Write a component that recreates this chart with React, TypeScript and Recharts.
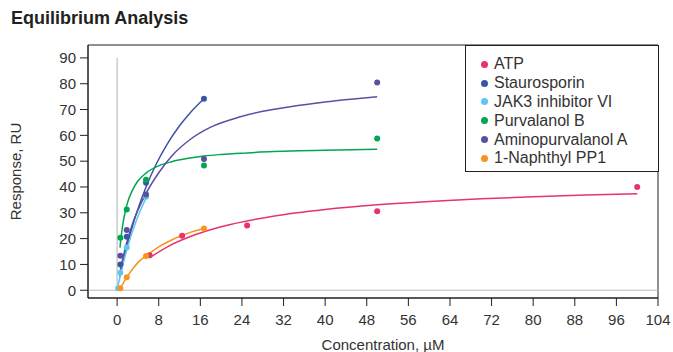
import {
  ComposedChart,
  Line,
  Scatter,
  XAxis,
  YAxis,
  ReferenceLine,
  ReferenceArea,
} from 'recharts';

// measured points (x in µM, y in RU)
const atpPoints = [
  { x: 6.25, y: 13.6 },
  { x: 12.5, y: 21.1 },
  { x: 25, y: 25.1 },
  { x: 50, y: 30.6 },
  { x: 100, y: 40 },
];
const stauroPoints = [
  { x: 0.62, y: 10 },
  { x: 1.85, y: 20.7 },
  { x: 5.56, y: 41.6 },
  { x: 16.7, y: 74.2 },
];
const jak3Points = [
  { x: 0.2, y: 0.8 },
  { x: 0.62, y: 6.8 },
  { x: 1.85, y: 16.6 },
  { x: 5.56, y: 36.2 },
];
const purvPoints = [
  { x: 0.62, y: 20.3 },
  { x: 1.85, y: 31.3 },
  { x: 5.56, y: 42.8 },
  { x: 16.7, y: 48.3 },
  { x: 50, y: 58.8 },
];
const aminoPoints = [
  { x: 0.62, y: 13.4 },
  { x: 1.85, y: 23.3 },
  { x: 5.56, y: 37.1 },
  { x: 16.7, y: 50.8 },
  { x: 50, y: 80.5 },
];
const naphPoints = [
  { x: 0.62, y: 0.8 },
  { x: 1.85, y: 5 },
  { x: 5.56, y: 13.3 },
  { x: 16.7, y: 23.9 },
];

// fitted curves
const atpCurve = [
  { x: 6.25, y: 12.6 }, { x: 10, y: 17.2 }, { x: 15, y: 21.5 }, { x: 20, y: 24.6 },
  { x: 30, y: 28.7 }, { x: 40, y: 31.3 }, { x: 50, y: 33.1 }, { x: 60, y: 34.4 },
  { x: 70, y: 35.4 }, { x: 80, y: 36.2 }, { x: 90, y: 36.9 }, { x: 100, y: 37.4 },
];
const stauroCurve = [
  { x: 0.5, y: 5 }, { x: 1.85, y: 16.8 }, { x: 3, y: 25.2 }, { x: 3.8, y: 30.3 },
  { x: 5.56, y: 40 }, { x: 7.5, y: 48.8 }, { x: 9.6, y: 56.5 }, { x: 12, y: 63.7 },
  { x: 14.1, y: 68.9 }, { x: 16.7, y: 74.2 },
];
const jak3Curve = [
  { x: 0.2, y: 2 }, { x: 0.62, y: 5.8 }, { x: 1.2, y: 10.7 }, { x: 1.85, y: 15.6 },
  { x: 3, y: 23 }, { x: 4, y: 28.6 }, { x: 5.56, y: 35.7 },
];
const purvCurve = [
  { x: 0.55, y: 16.5 }, { x: 0.62, y: 18 }, { x: 1, y: 24.3 }, { x: 1.85, y: 32.9 },
  { x: 3, y: 39 }, { x: 4, y: 42.3 }, { x: 5.56, y: 45.4 }, { x: 8, y: 48.2 },
  { x: 10.5, y: 49.8 }, { x: 14, y: 51.2 }, { x: 16.7, y: 52 }, { x: 20, y: 52.6 },
  { x: 25, y: 53.2 }, { x: 30, y: 53.7 }, { x: 35, y: 54 }, { x: 40, y: 54.2 },
  { x: 45, y: 54.4 }, { x: 50, y: 54.6 },
];
const aminoCurve = [
  { x: 0.62, y: 8 }, { x: 1.85, y: 18.5 }, { x: 3, y: 26 }, { x: 4, y: 31 },
  { x: 5.56, y: 37.5 }, { x: 8, y: 45.5 }, { x: 10.5, y: 52 }, { x: 14.1, y: 58.5 },
  { x: 18, y: 63.2 }, { x: 23.7, y: 67.2 }, { x: 28, y: 69.3 }, { x: 33.3, y: 71.1 },
  { x: 40, y: 72.9 }, { x: 45, y: 74 }, { x: 50, y: 75 },
];
const naphCurve = [
  { x: 0.62, y: 0.8 }, { x: 1.85, y: 5 }, { x: 3, y: 8.3 }, { x: 4, y: 10.7 },
  { x: 5.56, y: 13.3 }, { x: 8, y: 16.8 }, { x: 10, y: 19 }, { x: 12.5, y: 21.2 },
  { x: 14.5, y: 22.7 }, { x: 16.7, y: 23.9 },
];

const xTicks = [0, 8, 16, 24, 32, 40, 48, 56, 64, 72, 80, 88, 96, 104];
const yTicks = [0, 10, 20, 30, 40, 50, 60, 70, 80, 90];

const series = [
  { name: 'ATP', color: '#e8336a', points: atpPoints, curve: atpCurve },
  { name: 'Staurosporin', color: '#3a55a6', points: stauroPoints, curve: stauroCurve },
  { name: 'JAK3 inhibitor VI', color: '#5cc8f0', points: jak3Points, curve: jak3Curve },
  { name: 'Purvalanol B', color: '#00a651', points: purvPoints, curve: purvCurve },
  { name: 'Aminopurvalanol A', color: '#5b4fa2', points: aminoPoints, curve: aminoCurve },
  { name: '1-Naphthyl PP1', color: '#f7941d', points: naphPoints, curve: naphCurve },
];

const font = '"Liberation Sans", Arial, sans-serif';
const ink = '#231f20';
const txt = '#333';

function LegendBox() {
  return (
    <div
      style={{
        position: 'absolute',
        left: 465,
        top: 45,
        width: 194,
        height: 127,
        boxSizing: 'border-box',
        border: `1px solid ${ink}`,
        background: '#fff',
        padding: '9px 0 0 15px',
        fontFamily: font,
        fontSize: 16,
        color: txt,
      }}
    >
      {series.map((s) => (
        <div key={s.name} style={{ display: 'flex', alignItems: 'center', height: 18.8 }}>
          <span
            style={{
              width: 7,
              height: 7,
              borderRadius: '50%',
              background: s.color,
              marginRight: 6,
              display: 'inline-block',
            }}
          />
          {s.name}
        </div>
      ))}
    </div>
  );
}

export default function App() {
  return (
    <div style={{ position: 'absolute', left: 0, top: 0, width: 673, height: 352, background: '#fff', fontFamily: font }}>
      <div style={{ position: 'absolute', left: 11, top: 8, fontSize: 18, fontWeight: 'bold', color: ink }}>
        Equilibrium Analysis
      </div>
      <ComposedChart width={673} height={352} margin={{ top: 45, right: 15, left: 0, bottom: 0 }}>
        <XAxis
          dataKey="x"
          type="number"
          domain={[-5.6, 104]}
          allowDataOverflow
          ticks={xTicks}
          interval={0}
          tickSize={8}
          tickMargin={8}
          height={54}
          stroke={ink}
          tick={{ fill: txt, fontSize: 15 }}
          label={{ value: 'Concentration, µM', position: 'insideBottom', offset: 2, dx: 10, fill: txt, fontSize: 15 }}
        />
        <YAxis
          dataKey="y"
          type="number"
          domain={[-3, 95]}
          allowDataOverflow
          ticks={yTicks}
          interval={0}
          tickSize={8}
          tickMargin={4}
          width={88}
          stroke={ink}
          tick={{ fill: txt, fontSize: 15 }}
          label={{ value: 'Response, RU', angle: -90, position: 'insideLeft', offset: 16, fill: txt, fontSize: 15, style: { textAnchor: 'middle' } }}
        />
        <ReferenceArea x1={-5.6} x2={104} y1={-3} y2={95} fill="none" stroke={ink} strokeWidth={1} ifOverflow="visible" />
        <ReferenceLine y={0} stroke="#bdbdbd" strokeWidth={1.2} />
        <ReferenceLine segment={[{ x: 0, y: 0 }, { x: 0, y: 90 }]} stroke="#bdbdbd" strokeWidth={1.2} />
        {series.map((s) => (
          <Line
            key={s.name + '-curve'}
            data={s.curve}
            dataKey="y"
            type="monotone"
            stroke={s.color}
            strokeWidth={1.5}
            dot={false}
            activeDot={false}
            legendType="none"
            isAnimationActive={false}
          />
        ))}
        {series.map((s) => (
          <Scatter
            key={s.name + '-points'}
            name={s.name}
            data={s.points}
            dataKey="y"
            fill={s.color}
            isAnimationActive={false}
            shape={(p: any) => <circle cx={p.cx} cy={p.cy} r={3} fill={s.color} />}
          />
        ))}
      </ComposedChart>
      <LegendBox />
    </div>
  );
}
